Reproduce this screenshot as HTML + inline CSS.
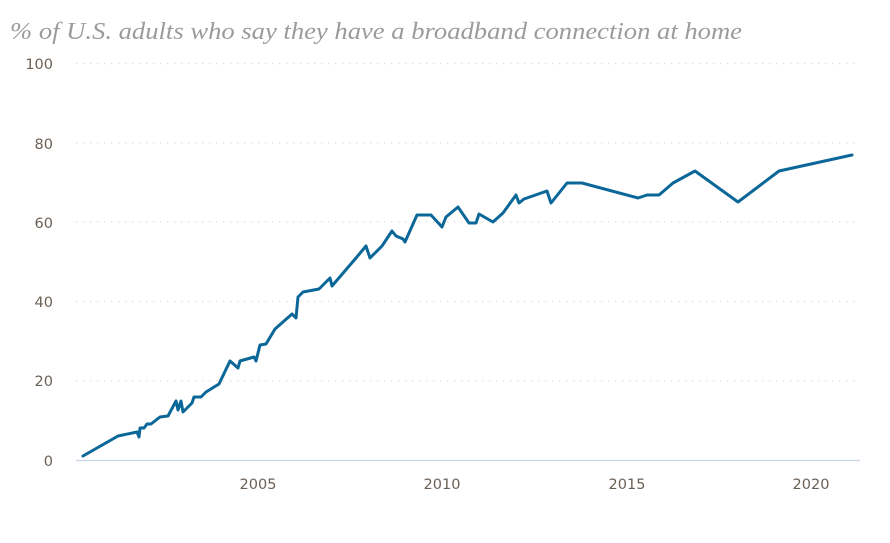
<!DOCTYPE html>
<html><head><meta charset="utf-8"><style>
html,body{margin:0;padding:0;background:#fff;width:890px;height:543px;overflow:hidden}
</style></head><body>
<svg width="890" height="543" viewBox="0 0 890 543" xmlns="http://www.w3.org/2000/svg">
<text x="10" y="39" font-family="Liberation Serif, serif" font-style="italic" font-size="24" fill="#9b9b9b" textLength="732" lengthAdjust="spacingAndGlyphs">% of U.S. adults who say they have a broadband connection at home</text>
<g stroke="#dcdcdc" stroke-width="1.3" stroke-dasharray="1.3,5.7">
<line x1="76" y1="63.5" x2="860" y2="63.5"/>
<line x1="76" y1="143" x2="860" y2="143"/>
<line x1="76" y1="222" x2="860" y2="222"/>
<line x1="76" y1="301.5" x2="860" y2="301.5"/>
<line x1="76" y1="381" x2="860" y2="381"/>
</g>
<line x1="76" y1="460.5" x2="860" y2="460.5" stroke="#c8d3e6" stroke-width="1.3"/>
<g font-family="DejaVu Sans, sans-serif" font-size="14.5" fill="#6b6055" text-anchor="end">
<text x="53" y="69">100</text>
<text x="53" y="149">80</text>
<text x="53" y="228">60</text>
<text x="53" y="307">40</text>
<text x="53" y="386">20</text>
<text x="53" y="466">0</text>
</g>
<g font-family="DejaVu Sans, sans-serif" font-size="14.5" fill="#6b6055" text-anchor="middle">
<text x="258" y="489">2005</text>
<text x="442" y="489">2010</text>
<text x="627" y="489">2015</text>
<text x="811" y="489">2020</text>
</g>
<polyline fill="none" stroke="#0b6798" stroke-width="3" stroke-linejoin="round" stroke-linecap="round" points="83,456 118,436 137,432 139,437 140,428 144,428 147,424 151,424 160,417 168,416 176,401 178,410 181,401 183,412 192,403 194,397 201,397 206,392 219,384 230,361 238,368 240,361 254,357 256,361 260,345 266,344 275,329 292,314 296,318 298,297 303,292 319,289 330,278 332,286 356,258 366,246 370,258 382,246 392,231 396,236 403,239 405,242 417,215 431,215 442,227 446,217 458,207 469,223 476,223 479,214 493,222 503,213 516,195 519,203 524,199 547,191 551,203 567,183 582,183 638,198 647,195 659,195 673,183 695,171 738,202 779,171 852,155"/>
</svg>
</body></html>
